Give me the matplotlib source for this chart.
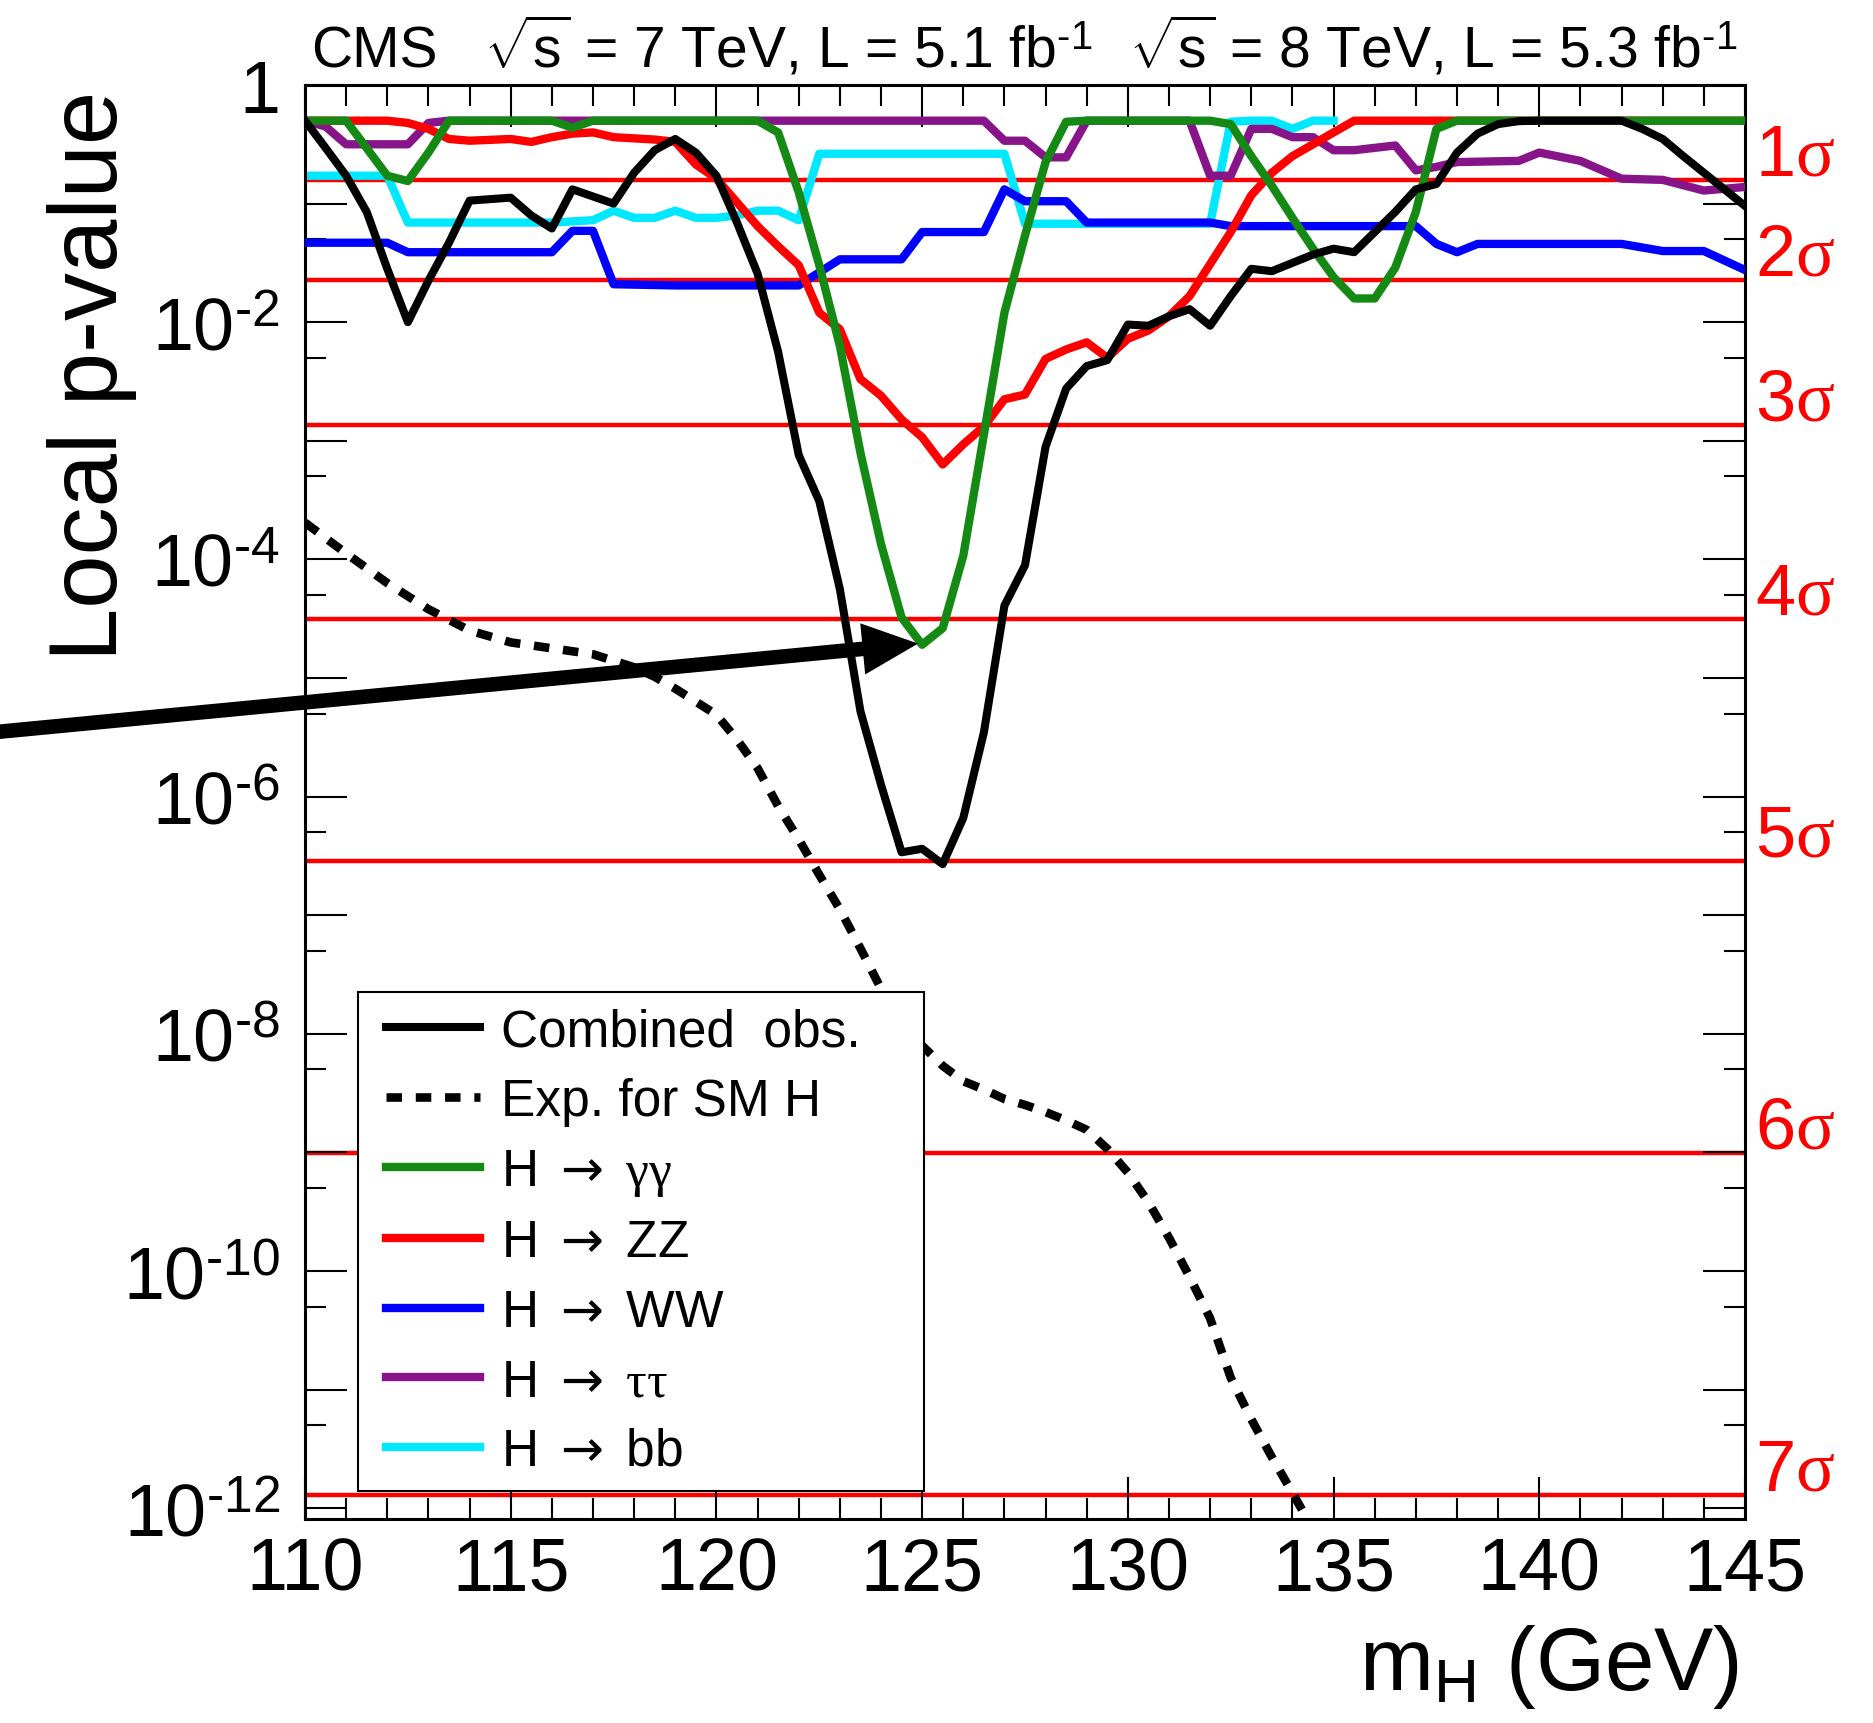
import numpy as np
import matplotlib
matplotlib.use('Agg')
import matplotlib.pyplot as plt
from matplotlib.ticker import FixedLocator, FixedFormatter, MultipleLocator, NullFormatter
from matplotlib.lines import Line2D
from matplotlib.legend_handler import HandlerLine2D
import matplotlib.transforms as mtrans

plt.rcParams['font.family'] = ['Liberation Sans', 'DejaVu Sans']
plt.rcParams['mathtext.fontset'] = 'custom'
plt.rcParams['mathtext.rm'] = 'Liberation Sans'
plt.rcParams['mathtext.sf'] = 'Liberation Sans'
plt.rcParams['mathtext.it'] = 'Liberation Serif'
plt.rcParams['mathtext.bf'] = 'Liberation Sans:bold'
plt.rcParams['mathtext.tt'] = 'DejaVu Sans'

# --- data: log10 of the local p-value ---
mass_obs = [110.0, 110.5, 111.0, 111.5, 112.0, 112.5, 113.0, 113.5, 114.0, 115.0,
            115.5, 116.0, 116.5, 117.5, 118.0, 118.5, 119.0, 119.5, 120.0, 120.5,
            121.0, 121.5, 122.0, 122.5, 123.0, 123.5, 124.0, 124.5, 125.0, 125.5,
            126.0, 126.5, 127.0, 127.5, 128.0, 128.5, 129.0, 129.5, 130.0, 130.5,
            131.0, 131.5, 132.0, 132.5, 133.0, 133.5, 134.0, 134.5, 135.0, 135.5,
            136.0, 136.5, 137.0, 137.5, 138.0, 138.5, 139.0, 139.5, 140.0, 142.0,
            142.5, 143.0, 143.5, 144.0, 144.5, 145.0]
lgp_obs = [-0.30, -0.53, -0.765, -1.07, -1.55, -2.0, -1.65, -1.33, -0.975, -0.95,
           -1.10, -1.21, -0.88, -1.0, -0.74, -0.55, -0.455, -0.57, -0.765, -1.16,
           -1.59, -2.25, -3.12, -3.51, -4.25, -5.28, -5.9, -6.47, -6.44, -6.57,
           -6.18, -5.46, -4.39, -4.05, -3.05, -2.56, -2.37, -2.32, -2.02, -2.03,
           -1.95, -1.89, -2.03, -1.78, -1.55, -1.57, -1.50, -1.43, -1.38, -1.41,
           -1.24, -1.07, -0.88, -0.835, -0.57, -0.41, -0.33, -0.305, -0.301, -0.301,
           -0.37, -0.455, -0.60, -0.74, -0.88, -1.02]

mass_exp = [110.0, 111.0, 112.0, 113.0, 114.0, 115.0, 116.0, 117.0, 118.0, 118.5,
            119.0, 119.5, 120.0, 120.5, 121.0, 121.5, 122.0, 122.5, 123.0, 123.5,
            124.0, 124.5, 125.0, 125.5, 126.0, 126.5, 127.0, 127.5, 128.0, 128.5,
            129.0, 129.5, 130.0, 130.5, 131.0, 131.5, 132.0, 132.5, 133.0, 133.5,
            134.0, 134.5, 135.0]
lgp_exp = [-3.69, -3.95, -4.2, -4.42, -4.60, -4.70, -4.75, -4.80, -4.91, -4.99,
           -5.09, -5.20, -5.31, -5.52, -5.76, -6.08, -6.36, -6.66, -6.95, -7.28,
           -7.62, -7.90, -8.10, -8.27, -8.40, -8.47, -8.55, -8.60, -8.66, -8.73,
           -8.81, -8.97, -9.17, -9.42, -9.72, -10.05, -10.40, -10.90, -11.25, -11.57,
           -11.87, -12.18, -12.5]

mass_gg = [110.0, 111.0, 112.0, 112.5, 113.0, 113.5, 116.0, 116.5, 117.0, 121.0,
           121.5, 122.0, 122.5, 123.0, 123.5, 124.0, 124.5, 125.0, 125.5, 126.0,
           126.5, 127.0, 127.5, 128.0, 128.5, 129.0, 132.0, 132.5, 133.0, 133.5,
           134.0, 134.5, 135.0, 135.5, 136.0, 136.5, 137.0, 137.5, 138.0, 145.0]
lgp_gg = [-0.301, -0.301, -0.765, -0.81, -0.57, -0.301, -0.301, -0.36, -0.301, -0.301,
          -0.40, -0.905, -1.52, -2.2, -3.1, -3.87, -4.49, -4.72, -4.58, -3.97,
          -2.95, -1.92, -1.27, -0.65, -0.31, -0.301, -0.301, -0.33, -0.60, -0.85,
          -1.12, -1.38, -1.62, -1.80, -1.80, -1.54, -1.07, -0.37, -0.301, -0.301]

mass_zz = [110.0, 112.0, 112.5, 113.0, 113.5, 114.0, 115.0, 115.5, 116.0, 116.5,
           117.0, 117.5, 118.0, 118.5, 119.0, 119.5, 120.0, 120.5, 121.0, 121.5,
           122.0, 122.5, 123.0, 123.5, 124.0, 124.5, 125.0, 125.5, 126.0, 126.5,
           127.0, 127.5, 128.0, 128.5, 129.0, 129.5, 130.0, 130.5, 131.0, 131.5,
           132.0, 132.5, 133.0, 133.5, 134.0, 134.5, 135.0, 135.5, 145.0]
lgp_zz = [-0.301, -0.301, -0.32, -0.37, -0.455, -0.47, -0.455, -0.48, -0.44, -0.41,
          -0.40, -0.44, -0.45, -0.46, -0.48, -0.67, -0.79, -0.99, -1.19, -1.36,
          -1.52, -1.92, -2.06, -2.48, -2.62, -2.82, -2.97, -3.20, -3.03, -2.88,
          -2.65, -2.61, -2.31, -2.23, -2.17, -2.30, -2.14, -2.07, -1.95, -1.78,
          -1.51, -1.24, -0.93, -0.74, -0.60, -0.50, -0.40, -0.301, -0.301]

mass_ww = [110.0, 112.0, 112.5, 116.0, 116.5, 117.0, 117.5, 119.0, 122.0, 123.0,
           124.5, 125.0, 126.5, 127.0, 127.5, 128.5, 129.0, 132.0, 132.5, 137.0,
           137.5, 138.0, 138.5, 142.0, 143.0, 144.0, 145.0]
lgp_ww = [-1.33, -1.33, -1.41, -1.41, -1.23, -1.23, -1.68, -1.69, -1.69, -1.47,
          -1.47, -1.24, -1.24, -0.88, -0.98, -0.98, -1.16, -1.16, -1.19, -1.19,
          -1.34, -1.41, -1.34, -1.34, -1.40, -1.40, -1.56]

mass_tt = [110.0, 110.5, 111.0, 112.5, 113.0, 113.5, 126.5, 127.0, 127.5, 128.0,
           128.5, 129.0, 131.5, 132.0, 132.5, 133.0, 133.5, 134.0, 134.5, 135.0,
           135.5, 136.0, 136.5, 137.0, 137.5, 138.0, 139.5, 140.0, 141.0, 142.0,
           143.0, 144.0, 145.0]
lgp_tt = [-0.301, -0.35, -0.50, -0.50, -0.32, -0.301, -0.301, -0.47, -0.47, -0.61,
          -0.61, -0.301, -0.301, -0.765, -0.765, -0.37, -0.37, -0.44, -0.44, -0.55,
          -0.55, -0.53, -0.51, -0.72, -0.69, -0.65, -0.64, -0.57, -0.64, -0.79,
          -0.80, -0.89, -0.86]

mass_bb = [110.0, 112.0, 112.5, 116.0, 117.0, 117.5, 118.0, 118.5, 119.0, 119.5,
           120.0, 120.5, 121.0, 121.5, 122.0, 122.5, 127.0, 127.5, 132.0, 132.5,
           133.0, 133.5, 134.0, 134.5, 135.0]
lgp_bb = [-0.765, -0.765, -1.16, -1.16, -1.14, -1.06, -1.12, -1.12, -1.06, -1.12,
          -1.12, -1.10, -1.06, -1.06, -1.14, -0.58, -0.58, -1.17, -1.17, -0.31,
          -0.301, -0.301, -0.37, -0.301, -0.301]

# one-sided p-values of 1..7 sigma
sigma_p = [1.587e-1, 2.275e-2, 1.350e-3, 3.167e-5, 2.867e-7, 9.866e-10, 1.280e-12]
sigma_labels = [r'1$\sigma$', r'2$\sigma$', r'3$\sigma$', r'4$\sigma$',
                r'5$\sigma$', r'6$\sigma$', r'7$\sigma$']

y_major = [1e0, 1e-1, 1e-2, 1e-3, 1e-4, 1e-5, 1e-6, 1e-7, 1e-8, 1e-9, 1e-10, 1e-11, 1e-12]
y_major_labels = ['1', '', r'$10^{\text{-}2}$', '', r'$10^{\text{-}4}$', '',
                  r'$10^{\text{-}6}$', '', r'$10^{\text{-}8}$', '',
                  r'$10^{\text{-}10}$', '', r'$10^{\text{-}12}$']
y_minor = [5e-1, 5e-2, 5e-3, 5e-4, 5e-5, 5e-6, 5e-7, 5e-8, 5e-9, 5e-10, 5e-11, 5e-12]

arrow_tip = (124.9, 1.95e-5)

c_green = '#148a14'
c_purple = '#88148a'
c_cyan = '#00e8ff'

fig = plt.figure(figsize=(18.74, 17.24), dpi=100)
ax = fig.add_axes([0.16275, 0.11833, 0.76841, 0.83179])
ax.set_yscale('log')

for p in sigma_p:
    ax.axhline(p, color='red', lw=3.2, zorder=1)

lw = 6.0
lw_obs = 5.8
dash = (0, (1.8, 1.6))
ax.plot(mass_bb, 10 ** np.array(lgp_bb), color=c_cyan, lw=lw, zorder=2)
ax.plot(mass_tt, 10 ** np.array(lgp_tt), color=c_purple, lw=lw, zorder=3)
ax.plot(mass_ww, 10 ** np.array(lgp_ww), color='blue', lw=lw, zorder=4)
ax.plot(mass_zz, 10 ** np.array(lgp_zz), color='red', lw=lw, zorder=5)
ax.plot(mass_gg, 10 ** np.array(lgp_gg), color=c_green, lw=lw, zorder=6)
ax.plot(mass_exp, 10 ** np.array(lgp_exp), color='black', lw=6.2,
        linestyle=dash, zorder=7)
ax.plot(mass_obs, 10 ** np.array(lgp_obs), color='black', lw=lw_obs, zorder=8)

ax.set_xlim(110, 145)
ax.set_ylim(8.1e-13, 1)

ax.xaxis.set_major_locator(MultipleLocator(5))
ax.xaxis.set_minor_locator(MultipleLocator(1))
ax.yaxis.set_major_locator(FixedLocator(y_major))
ax.yaxis.set_major_formatter(FixedFormatter(y_major_labels))
ax.yaxis.set_minor_locator(FixedLocator(y_minor))
ax.yaxis.set_minor_formatter(NullFormatter())

ax.tick_params(which='both', direction='in', top=True, right=True, width=1.5)
ax.tick_params(which='major', length=30)
ax.tick_params(which='minor', length=15)
ax.tick_params(axis='x', which='major', labelsize=53, pad=12)
ax.tick_params(axis='y', which='major', labelsize=53, pad=18)
for s in ax.spines.values():
    s.set_linewidth(2.2)

ax.set_xlabel(r'm$_{\mathrm{H}}$ (GeV)', fontsize=64, loc='right')
ax.xaxis.set_label_coords(0.996, -0.072)
ax.set_ylabel('Local p-value', fontsize=69, loc='top')
ax.yaxis.set_label_coords(-0.117, 0.997)

# header
hdr = r'$\sqrt{\mathrm{s}}$ = %s TeV, L = %s fb$^{\text{-}1}$'
ax.text(0.004, 1.013, 'CMS', transform=ax.transAxes, fontsize=41, va='baseline')
ax.text(0.124, 1.013, hdr % ('7', '5.1'), transform=ax.transAxes, fontsize=41,
        va='baseline')
ax.text(0.572, 1.013, hdr % ('8', '5.3'), transform=ax.transAxes, fontsize=41,
        va='baseline')

# sigma labels on the right
tr = mtrans.blended_transform_factory(ax.transAxes, ax.transData)
tr = mtrans.offset_copy(tr, fig=fig, y=4, units='points')
for p, lab in zip(sigma_p, sigma_labels):
    ax.text(1.007, p, lab, transform=tr, color='red', fontsize=52,
            va='baseline', ha='left')

# legend
handles = [
    Line2D([], [], color='black', lw=lw_obs),
    Line2D([], [], color='black', lw=6.2, linestyle=dash),
    Line2D([], [], color=c_green, lw=lw),
    Line2D([], [], color='red', lw=lw),
    Line2D([], [], color='blue', lw=lw),
    Line2D([], [], color=c_purple, lw=lw),
    Line2D([], [], color=c_cyan, lw=lw),
]
arr = r'$\mathtt{\rightarrow}$'
labels = ['Combined  obs.', 'Exp. for SM H', 'H ' + arr + r' $\gamma\gamma$',
          'H ' + arr + ' ZZ', 'H ' + arr + ' WW', 'H ' + arr + r' $\tau\tau$',
          'H ' + arr + ' bb']
leg = ax.legend(handles, labels, loc='upper left',
                bbox_to_anchor=(0.0368, 0.0237, 0.3931, 0.3438), mode='expand',
                fontsize=37, frameon=True, fancybox=False, framealpha=1,
                edgecolor='black', handlelength=2.07, handletextpad=0.41,
                labelspacing=0.40, borderpad=0.3, borderaxespad=0,
                handler_map={Line2D: HandlerLine2D(xpad=0.25)})
leg.get_frame().set_linewidth(1.5)
leg.set_zorder(9)

# arrow pointing at the diphoton minimum
ax.annotate('', xy=arrow_tip, xycoords='data',
            xytext=(-0.005, 0.5745), textcoords='figure fraction',
            arrowprops=dict(width=10.5, headwidth=37, headlength=40,
                            facecolor='black', edgecolor='black', lw=0, shrink=0),
            annotation_clip=False, zorder=10)

fig.savefig('out.png', dpi=100)
